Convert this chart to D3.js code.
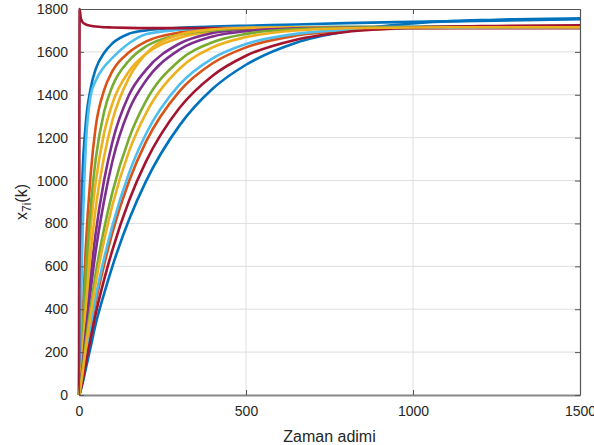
<!DOCTYPE html>
<html>
<head>
<meta charset="utf-8">
<script src="https://cdn.jsdelivr.net/npm/d3@7"></script>
<style>
  body { margin: 0; background: #fff; }
  text { font-family: "Liberation Sans", Arial, sans-serif; fill: #262626; }
</style>
</head>
<body>
<script>
var steps = [0, 2, 5, 10, 20, 35, 50, 75, 100, 150, 200, 300, 400, 500, 650, 800, 1000, 1250, 1500];

// readings per curve (same order as steps)
var blueFast      = [0, 300, 700, 1000, 1260, 1430, 1520, 1595, 1640, 1685, 1700, 1712, 1718, 1722, 1728, 1734, 1740, 1746, 1752];
var orangeFast    = [0, 20, 120, 330, 680, 1030, 1250, 1420, 1510, 1598, 1648, 1690, 1705, 1710, 1712, 1713, 1714, 1714, 1715];
var yellowFast    = [0, 12, 75, 215, 480, 780, 990, 1220, 1360, 1510, 1590, 1665, 1695, 1707, 1713, 1715, 1716, 1716, 1716];
var purpleA       = [0, 10, 60, 140, 330, 560, 755, 1000, 1180, 1400, 1515, 1638, 1688, 1705, 1713, 1715, 1716, 1716, 1716];
var greenFast     = [0, 15, 90, 260, 560, 880, 1100, 1320, 1440, 1560, 1625, 1680, 1700, 1708, 1713, 1716, 1718, 1719, 1720];
var lightBlueFast = [0, 100, 350, 700, 1150, 1395, 1465, 1530, 1572, 1640, 1682, 1703, 1711, 1714, 1716, 1717, 1718, 1719, 1720];
var redSpike      = [0, 1800, 1760, 1740, 1728, 1722, 1718, 1715, 1714, 1712, 1711, 1711, 1711, 1711, 1711, 1711, 1711, 1711, 1711];
var blueSlow      = [0, 5, 20, 50, 120, 225, 331, 472, 600, 818, 995, 1255, 1428, 1540, 1643, 1697, 1733, 1750, 1757];
var orangeSlow    = [0, 8, 30, 70, 170, 305, 432, 605, 757, 998, 1179, 1415, 1547, 1621, 1676, 1699, 1710, 1714, 1715];
var yellowMid     = [0, 15, 75, 175, 400, 660, 870, 1110, 1280, 1480, 1590, 1680, 1705, 1712, 1715, 1716, 1716, 1716, 1716];
var purpleB       = [0, 10, 52, 125, 290, 490, 670, 905, 1090, 1330, 1465, 1610, 1672, 1697, 1710, 1714, 1715, 1716, 1716];
var greenSlow     = [0, 9, 45, 105, 240, 410, 566, 774, 945, 1198, 1369, 1559, 1645, 1684, 1706, 1712, 1715, 1716, 1716];
var lightBlueSlow = [0, 7, 35, 80, 185, 325, 456, 636, 790, 1036, 1216, 1446, 1570, 1637, 1684, 1703, 1712, 1715, 1716];
var redSlow       = [0, 6, 25, 60, 145, 265, 379, 537, 676, 907, 1087, 1337, 1489, 1582, 1657, 1693, 1713, 1721, 1724];
var yellowSlow    = [0, 8, 40, 95, 215, 375, 521, 719, 885, 1137, 1312, 1520, 1621, 1669, 1700, 1710, 1714, 1715, 1715];

// axis ticks
var xTicks = [0, 500, 1000, 1500];
var yTicks = [0, 200, 400, 600, 800, 1000, 1200, 1400, 1600, 1800];

// matlab colour order
var blue = "#0072BD", orange = "#D95319", yellow = "#EDB120", purple = "#7E2F8E",
    green = "#77AC30", lightBlue = "#4DBEEE", red = "#A2142F";

var series = [
  { v: blueFast, c: blue }, { v: orangeFast, c: orange }, { v: yellowFast, c: yellow },
  { v: purpleA, c: purple }, { v: greenFast, c: green }, { v: lightBlueFast, c: lightBlue },
  { v: redSpike, c: red }, { v: blueSlow, c: blue }, { v: orangeSlow, c: orange },
  { v: yellowMid, c: yellow }, { v: purpleB, c: purple }, { v: greenSlow, c: green },
  { v: lightBlueSlow, c: lightBlue }, { v: redSlow, c: red }, { v: yellowSlow, c: yellow }
];

var width = 594, height = 445;
var mLeft = 79, mRight = 580, mTop = 9, mBottom = 395;

var svg = d3.select("body").append("svg")
  .attr("width", width)
  .attr("height", height);

var x = d3.scaleLinear().domain([0, 1500]).range([mLeft, mRight]);
var y = d3.scaleLinear().domain([0, 1800]).range([mBottom, mTop]);

// grid
var grid = svg.append("g").attr("stroke", "#dedede").attr("stroke-width", 1);
grid.selectAll(".gx").data(xTicks.slice(1, -1)).enter().append("line")
  .attr("x1", d => x(d)).attr("x2", d => x(d)).attr("y1", mTop).attr("y2", mBottom);
grid.selectAll(".gy").data(yTicks.slice(1, -1)).enter().append("line")
  .attr("x1", mLeft).attr("x2", mRight).attr("y1", d => y(d)).attr("y2", d => y(d));

// curves
var line = d3.line()
  .x((d, i) => x(steps[i]))
  .y(d => y(d))
  .curve(d3.curveMonotoneX);

svg.append("g").selectAll("path").data(series).enter().append("path")
  .attr("d", d => line(d.v))
  .attr("fill", "none")
  .attr("stroke", d => d.c)
  .attr("stroke-width", 2.6)
  .attr("stroke-linejoin", "round");

// axes (matlab box with inward ticks)
var fmt = d3.format("d");
var xAxis = d3.axisBottom(x).tickValues(xTicks).tickFormat(fmt).tickSizeInner(-5).tickSizeOuter(0).tickPadding(11);
var yAxis = d3.axisLeft(y).tickValues(yTicks).tickFormat(fmt).tickSizeInner(-5).tickSizeOuter(0).tickPadding(11);

var gx = svg.append("g").attr("transform", "translate(0," + mBottom + ")").call(xAxis);
var gy = svg.append("g").attr("transform", "translate(" + mLeft + ",0)").call(yAxis);
var gxTop = svg.append("g").attr("transform", "translate(0," + mTop + ")")
  .call(d3.axisTop(x).tickValues(xTicks).tickSizeInner(-5).tickSizeOuter(0).tickFormat(""));
var gyRight = svg.append("g").attr("transform", "translate(" + mRight + ",0)")
  .call(d3.axisRight(y).tickValues(yTicks).tickSizeInner(-5).tickSizeOuter(0).tickFormat(""));

[gx, gy, gxTop, gyRight].forEach(function (g) {
  g.select(".domain").attr("stroke", "#555").attr("stroke-width", 1.2);
  g.selectAll(".tick line").attr("stroke", "#555");
  g.selectAll("text").style("font-size", "14px").attr("fill", "#262626");
});
gx.select(".domain").attr("stroke", "#888").attr("stroke-width", 2);

// labels
svg.append("text")
  .attr("x", (mLeft + mRight) / 2)
  .attr("y", 442)
  .attr("text-anchor", "middle")
  .style("font-size", "16px")
  .text("Zaman adimi");

var yl = svg.append("text")
  .attr("transform", "translate(27,202) rotate(-90)")
  .attr("text-anchor", "middle")
  .style("font-size", "16px");
yl.append("tspan").text("x");
yl.append("tspan").attr("dy", 4).style("font-size", "12px").text("7i");
yl.append("tspan").attr("dy", -4).text("(k)");
</script>
</body>
</html>
